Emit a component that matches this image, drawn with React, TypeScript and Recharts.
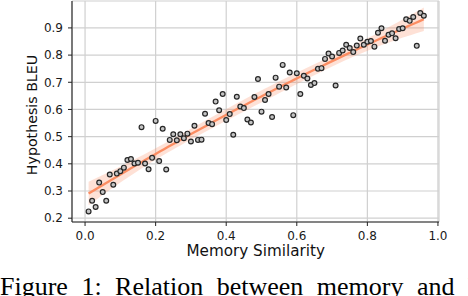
import React from 'react';
import { ComposedChart, Scatter, Line, Area, XAxis, YAxis, CartesianGrid } from 'recharts';

// Memory similarity (x) of each scattered point
const similarity = [
  0.01, 0.02, 0.03, 0.04, 0.05, 0.06, 0.07, 0.08, 0.09, 0.10,
  0.11, 0.12, 0.13, 0.14, 0.15, 0.16, 0.17, 0.18, 0.19, 0.20,
  0.21, 0.22, 0.23, 0.24, 0.25, 0.26, 0.27, 0.28, 0.29, 0.30,
  0.31, 0.32, 0.33, 0.34, 0.35, 0.36, 0.37, 0.38, 0.39, 0.40,
  0.41, 0.42, 0.43, 0.44, 0.45, 0.46, 0.47, 0.48, 0.49, 0.50,
  0.51, 0.52, 0.53, 0.54, 0.55, 0.56, 0.57, 0.58, 0.59, 0.60,
  0.61, 0.62, 0.63, 0.64, 0.65, 0.66, 0.67, 0.68, 0.69, 0.70,
  0.71, 0.72, 0.73, 0.74, 0.75, 0.76, 0.77, 0.78, 0.79, 0.80,
  0.81, 0.82, 0.83, 0.84, 0.85, 0.86, 0.87, 0.88, 0.89, 0.90,
  0.91, 0.92, 0.93, 0.94, 0.95, 0.96,
];

// Hypothesis BLEU (y) of each scattered point
const bleu = [
  0.225, 0.264, 0.241, 0.331, 0.296, 0.264, 0.361, 0.323, 0.364, 0.373,
  0.386, 0.414, 0.418, 0.401, 0.404, 0.535, 0.401, 0.380, 0.422, 0.558,
  0.410, 0.529, 0.379, 0.488, 0.509, 0.487, 0.509, 0.494, 0.511, 0.482,
  0.540, 0.488, 0.489, 0.584, 0.550, 0.546, 0.629, 0.597, 0.657, 0.561,
  0.583, 0.507, 0.647, 0.611, 0.605, 0.563, 0.552, 0.646, 0.712, 0.592,
  0.635, 0.657, 0.572, 0.717, 0.684, 0.764, 0.681, 0.736, 0.579, 0.733,
  0.657, 0.724, 0.714, 0.690, 0.697, 0.750, 0.752, 0.786, 0.806, 0.795,
  0.688, 0.808, 0.817, 0.838, 0.826, 0.811, 0.835, 0.861, 0.838, 0.849,
  0.852, 0.831, 0.882, 0.899, 0.853, 0.875, 0.880, 0.862, 0.896, 0.899,
  0.932, 0.926, 0.940, 0.834, 0.955, 0.945,
];

const xTicks = [0.0, 0.2, 0.4, 0.6, 0.8, 1.0];
const yTicks = [0.2, 0.3, 0.4, 0.5, 0.6, 0.7, 0.8, 0.9];

const xTitle = 'Memory Similarity';
const yTitle = 'Hypothesis BLEU';
const caption = 'Figure 1: Relation between memory and hypothesis';

// scatter rows
const points = similarity.map((x, i) => ({ x, y: bleu[i] }));

// 2nd-order least-squares fit of the scatter, with a confidence band of the mean
function inv3(m: number[][]): number[][] {
  const [[a, b, c], [d, e, f], [g, h, k]] = m;
  const A = e * k - f * h;
  const B = -(d * k - f * g);
  const C = d * h - e * g;
  const det = a * A + b * B + c * C;
  return [
    [A / det, -(b * k - c * h) / det, (b * f - c * e) / det],
    [B / det, (a * k - c * g) / det, -(a * f - c * d) / det],
    [C / det, -(a * h - b * g) / det, (a * e - b * d) / det],
  ];
}

function buildFit() {
  const n = similarity.length;
  const xtx = [
    [0, 0, 0],
    [0, 0, 0],
    [0, 0, 0],
  ];
  const xty = [0, 0, 0];
  for (let i = 0; i < n; i++) {
    const v = [1, similarity[i], similarity[i] ** 2];
    for (let r = 0; r < 3; r++) {
      xty[r] += v[r] * bleu[i];
      for (let c = 0; c < 3; c++) xtx[r][c] += v[r] * v[c];
    }
  }
  const inv = inv3(xtx);
  const beta = [0, 1, 2].map((r) => inv[r][0] * xty[0] + inv[r][1] * xty[1] + inv[r][2] * xty[2]);
  const pred = (x: number) => beta[0] + beta[1] * x + beta[2] * x * x;
  let sse = 0;
  for (let i = 0; i < n; i++) sse += (bleu[i] - pred(similarity[i])) ** 2;
  const s = Math.sqrt(sse / (n - 3));
  const t = 3.2;
  const lo = Math.min(...similarity);
  const hi = Math.max(...similarity);
  const rows: { x: number; y: number; band: [number, number] }[] = [];
  const steps = 80;
  for (let k = 0; k <= steps; k++) {
    const x = lo + ((hi - lo) * k) / steps;
    const v = [1, x, x * x];
    let q = 0;
    for (let r = 0; r < 3; r++) for (let c = 0; c < 3; c++) q += v[r] * inv[r][c] * v[c];
    const y = pred(x);
    const se = s * Math.sqrt(q);
    rows.push({ x, y, band: [y - t * se, y + t * se] });
  }
  return rows;
}
const fit = buildFit();

const FONT = '"DejaVu Sans", sans-serif';

const Marker = (props: any) => {
  const { cx, cy } = props;
  if (cx == null || cy == null) return null;
  return <circle cx={cx} cy={cy} r={2.4} fill="#c4c4c4" stroke="#262626" strokeWidth={1.2} />;
};

export default function App() {
  const tickStyle = { fontSize: 12, fill: '#1a1a1a', fontFamily: FONT };
  return (
    <div style={{ position: 'absolute', left: 0, top: 0, width: 468, height: 296, background: '#fff', overflow: 'hidden' }}>
      <ComposedChart width={468} height={296} data={fit} margin={{ top: 1, right: 29, bottom: 44, left: 32 }}>
        <CartesianGrid stroke="#d0d0d0" strokeWidth={1.2} />
        <XAxis
          dataKey="x"
          type="number"
          domain={[-0.037, 1.003]}
          ticks={xTicks}
          allowDataOverflow
          height={30}
          tickSize={4}
          tickMargin={5}
          tickFormatter={(v: number) => v.toFixed(1)}
          tick={tickStyle}
          axisLine={{ stroke: '#222', strokeWidth: 1.1 }}
          tickLine={{ stroke: '#222' }}
          interval={0}
        />
        <YAxis
          dataKey="y"
          type="number"
          domain={[0.186, 0.999]}
          ticks={yTicks}
          allowDataOverflow
          width={40}
          tickSize={4}
          tickMargin={5}
          tickFormatter={(v: number) => v.toFixed(1)}
          tick={tickStyle}
          axisLine={{ stroke: '#222', strokeWidth: 1.1 }}
          tickLine={{ stroke: '#222' }}
          interval={0}
        />
        <XAxis
          xAxisId="top"
          orientation="top"
          type="number"
          domain={[-0.037, 1.003]}
          height={0}
          tick={false}
          tickLine={false}
          axisLine={{ stroke: '#222', strokeWidth: 1.1 }}
        />
        <YAxis
          yAxisId="right"
          orientation="right"
          type="number"
          domain={[0.186, 0.999]}
          width={0}
          tick={false}
          tickLine={false}
          axisLine={{ stroke: '#222', strokeWidth: 1.4 }}
        />
        <Area
          dataKey="band"
          type="linear"
          fill="#fc8d62"
          fillOpacity={0.26}
          stroke="none"
          isAnimationActive={false}
          activeDot={false}
        />
        <Scatter data={points} dataKey="y" shape={<Marker />} isAnimationActive={false} />
        <Line
          dataKey="y"
          type="linear"
          stroke="#fc8d62"
          strokeWidth={2.3}
          dot={false}
          activeDot={false}
          isAnimationActive={false}
        />
      </ComposedChart>
      <div
        style={{
          position: 'absolute',
          left: 255.7,
          top: 252,
          transform: 'translate(-50%, -50%)',
          fontFamily: FONT,
          fontSize: 15.2,
          color: '#111',
          whiteSpace: 'nowrap',
          lineHeight: 1,
        }}
      >
        {xTitle}
      </div>
      <div
        style={{
          position: 'absolute',
          left: 32,
          top: 114.5,
          transform: 'translate(-50%, -50%) rotate(-90deg)',
          fontFamily: FONT,
          fontSize: 14.2,
          color: '#111',
          whiteSpace: 'nowrap',
          lineHeight: 1,
        }}
      >
        {yTitle}
      </div>
      <div
        style={{
          position: 'absolute',
          left: 0,
          top: 274,
          fontFamily: '"Liberation Serif", serif',
          fontSize: 26,
          wordSpacing: 7,
          color: '#000',
          whiteSpace: 'nowrap',
          lineHeight: 1,
        }}
      >
        {caption}
      </div>
    </div>
  );
}
